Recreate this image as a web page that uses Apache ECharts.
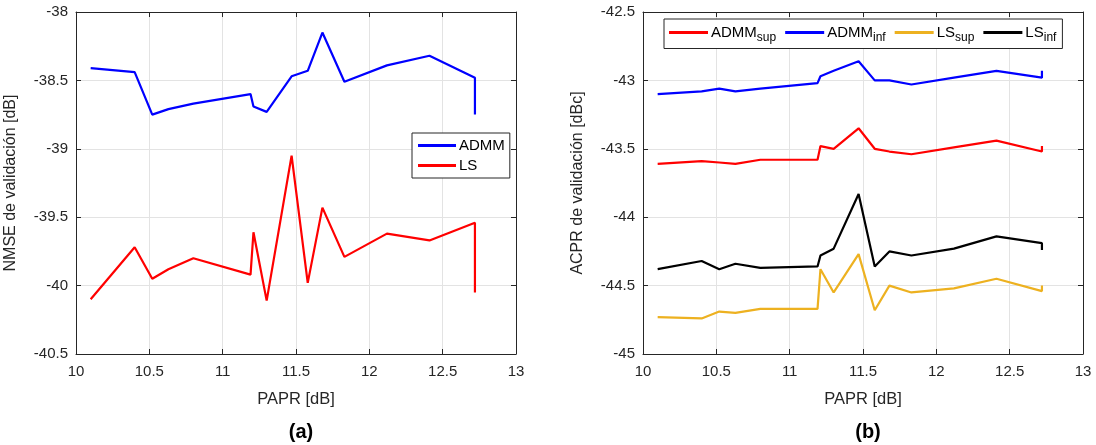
<!DOCTYPE html>
<html>
<head>
    <meta charset="UTF-8">
    <title></title>
    <style type="text/css">
        body{margin:0;background:#fff;}
        #mychart{width:1096px;height:445px;}
    </style>
</head>
<body>
<div id='mychart'></div>
<script src='https://cdn.jsdelivr.net/npm/echarts@6/dist/echarts.min.js'></script>
<script>
    // PAPR [dB] (eje x compartido)
    var papr = [10.1, 10.4, 10.52, 10.63, 10.8, 11.19, 11.21, 11.3, 11.47, 11.58, 11.68, 11.83, 12.12, 12.41, 12.72, 12.72];

    // (a) NMSE de validacion
    var nmseADMM = [-38.41, -38.44, -38.75, -38.71, -38.67, -38.6, -38.69, -38.73, -38.47, -38.43, -38.15, -38.51, -38.39, -38.32, -38.48, -38.75];
    var nmseLS = [-40.1, -39.72, -39.95, -39.88, -39.8, -39.92, -39.61, -40.11, -39.05, -39.98, -39.43, -39.79, -39.62, -39.67, -39.54, -40.05];

    // (b) ACPR de validacion
    var admmSup = [-43.61, -43.59, -43.6, -43.61, -43.58, -43.58, -43.48, -43.5, -43.35, -43.5, -43.52, -43.54, -43.49, -43.44, -43.52, -43.48];
    var admmInf = [-43.1, -43.08, -43.06, -43.08, -43.06, -43.02, -42.97, -42.93, -42.86, -43.0, -43.0, -43.03, -42.98, -42.93, -42.98, -42.93];
    var lsSup = [-44.73, -44.74, -44.69, -44.7, -44.67, -44.67, -44.38, -44.55, -44.27, -44.68, -44.5, -44.55, -44.52, -44.45, -44.54, -44.5];
    var lsInf = [-44.38, -44.32, -44.38, -44.34, -44.37, -44.36, -44.28, -44.23, -43.83, -44.36, -44.25, -44.28, -44.23, -44.14, -44.19, -44.24];

    var xTicks = [10, 13, 0.5];
    var yTicksA = [-40.5, -38, 0.5];
    var yTicksB = [-45, -42.5, 0.5];

    function pairs(ys) {
        return papr.map(function (x, i) { return [x, ys[i]]; });
    }

    var font = 'Liberation Sans';
    var dark = '#262626';

    function mkX(grid, pos, show) {
        return {
            type: 'value', gridIndex: grid, position: pos,
            min: xTicks[0], max: xTicks[1], interval: xTicks[2],
            name: show ? 'PAPR [dB]' : '', nameLocation: 'middle', nameGap: 37,
            nameTextStyle: {fontFamily: font, fontSize: 16.5, color: dark},
            axisLine: {show: true, onZero: false, lineStyle: {color: dark, width: 1}},
            axisTick: {show: true, inside: true, length: 5, lineStyle: {color: dark}},
            axisLabel: {show: show, fontFamily: font, fontSize: 15, color: dark, margin: 10},
            splitLine: {show: show, lineStyle: {color: '#e3e3e3', width: 1}}
        };
    }
    function mkY(grid, pos, ticks, name, show) {
        return {
            type: 'value', gridIndex: grid, position: pos,
            min: ticks[0], max: ticks[1], interval: ticks[2],
            name: show ? name : '', nameLocation: 'middle', nameGap: 57,
            nameTextStyle: {fontFamily: font, fontSize: 16, color: dark},
            axisLine: {show: true, onZero: false, lineStyle: {color: dark, width: 1}},
            axisTick: {show: true, inside: true, length: 5, lineStyle: {color: dark}},
            axisLabel: {show: show, fontFamily: font, fontSize: 15, color: dark, margin: 8},
            splitLine: {show: show, lineStyle: {color: '#e3e3e3', width: 1}}
        };
    }
    function mkLine(name, ys, color, xi, yi) {
        return {
            name: name, type: 'line', xAxisIndex: xi, yAxisIndex: yi,
            data: pairs(ys), showSymbol: false, symbol: 'none',
            lineStyle: {color: color, width: 2.2}, itemStyle: {color: color},
            animation: false
        };
    }

    var subRich = {
        a: {fontFamily: font, fontSize: 15, color: '#000'},
        s: {fontFamily: font, fontSize: 12, color: '#000', padding: [10, 0, 0, 0]}
    };

    var option = {
        backgroundColor: '#fff',
        animation: false,
        title: [
            {text: '(a)', left: 296, top: 417, textAlign: 'center',
                textStyle: {fontFamily: font, fontSize: 20, fontWeight: 'bold', color: '#000'}},
            {text: '(b)', left: 863, top: 417, textAlign: 'center',
                textStyle: {fontFamily: font, fontSize: 20, fontWeight: 'bold', color: '#000'}}
        ],
        grid: [
            {left: 76, top: 12, width: 440, height: 342},
            {left: 643, top: 12, width: 440, height: 342}
        ],
        legend: [
            {
                data: ['ADMM', 'LS'], orient: 'vertical', left: 412, top: 133,
                itemWidth: 38, itemHeight: 3, icon: 'rect', itemGap: 5,
                padding: [5, 5, 5, 6], borderColor: dark, borderWidth: 1,
                backgroundColor: '#fff',
                textStyle: {fontFamily: font, fontSize: 15, color: '#000', padding: [0, 0, 0, -2]}
            },
            {
                data: ['ADMMsup', 'ADMMinf', 'LSsup', 'LSinf'], orient: 'horizontal', left: 664, top: 19,
                itemWidth: 39, itemHeight: 3, icon: 'rect', itemGap: 9,
                padding: [6, 6, 5, 5], borderColor: dark, borderWidth: 1,
                backgroundColor: '#fff',
                formatter: function (n) {
                    var m = n.match(/^(ADMM|LS)(sup|inf)$/);
                    return '{a|' + m[1] + '}{s|' + m[2] + '}';
                },
                textStyle: {rich: subRich, padding: [0, 0, 0, -2]}
            }
        ],
        xAxis: [mkX(0, 'bottom', true), mkX(0, 'top', false), mkX(1, 'bottom', true), mkX(1, 'top', false)],
        yAxis: [
            mkY(0, 'left', yTicksA, 'NMSE de validación [dB]', true), mkY(0, 'right', yTicksA, '', false),
            mkY(1, 'left', yTicksB, 'ACPR de validación [dBc]', true), mkY(1, 'right', yTicksB, '', false)
        ],
        series: [
            mkLine('ADMM', nmseADMM, '#0000ff', 0, 0),
            mkLine('LS', nmseLS, '#ff0000', 0, 0),
            mkLine('ADMMsup', admmSup, '#ff0000', 2, 2),
            mkLine('ADMMinf', admmInf, '#0000ff', 2, 2),
            mkLine('LSsup', lsSup, '#EDB120', 2, 2),
            mkLine('LSinf', lsInf, '#000000', 2, 2)
        ]
    };

    var mychart = echarts.init(document.getElementById('mychart'));
    mychart.setOption(option);
</script>
</body>
</html>
